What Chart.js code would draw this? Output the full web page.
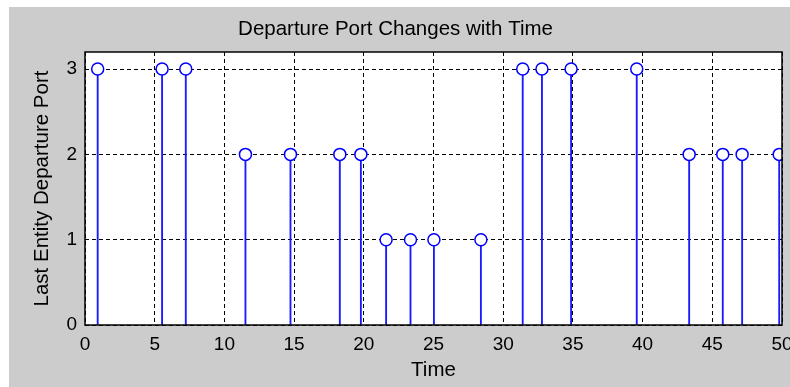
<!DOCTYPE html>
<html>
<head>
<meta charset="utf-8">
<script src="https://cdn.jsdelivr.net/npm/chart.js@4"></script>
<style>
  html, body { margin: 0; padding: 0; background: #fff; }
  #box { position: absolute; left: 9px; top: 7px; width: 781px; height: 380px; background: #cccccc; }
</style>
</head>
<body>
<div id="box"><canvas id="chart" width="781" height="380"></canvas></div>
<script>
// departure times and the port each entity left from
const times = [0.91, 5.53, 7.23, 11.51, 14.74, 18.28, 19.79, 21.6, 23.35, 25.03, 28.4,
               31.4, 32.78, 34.87, 39.58, 43.34, 45.75, 47.14, 49.8];
const ports = [3, 3, 3, 2, 2, 2, 2, 1, 1, 1, 1, 3, 3, 3, 3, 2, 2, 2, 2];
const xTicks = [0, 5, 10, 15, 20, 25, 30, 35, 40, 45, 50];
const yTicks = [0, 1, 2, 3];

const points = times.map((t, i) => ({ x: t, y: ports[i] }));
const FONT = "'Liberation Sans', Arial, sans-serif";

const frame = {
    id: 'frame',
    beforeDraw(chart) {
        const a = chart.chartArea, ctx = chart.ctx;
        ctx.save();
        ctx.fillStyle = '#fff';
        ctx.fillRect(a.left, a.top, a.right - a.left, a.bottom - a.top);
        ctx.restore();
    },
    afterDraw(chart) {
        const a = chart.chartArea, ctx = chart.ctx;
        ctx.save();
        ctx.strokeStyle = '#000';
        ctx.lineWidth = 1.5;
        ctx.strokeRect(a.left, a.top, a.right - a.left, a.bottom - a.top);
        ctx.restore();
    }
};

new Chart(document.getElementById('chart'), {
    type: 'bar',
    data: {
        datasets: [{
            type: 'scatter',
            data: points,
            order: 0,
            pointRadius: 6,
            pointHoverRadius: 6,
            pointBorderWidth: 1.5,
            pointBorderColor: '#0000ff',
            pointBackgroundColor: '#fff'
        }, {
            type: 'bar',
            data: points,
            order: 1,
            grouped: false,
            barThickness: 1.2,
            backgroundColor: '#1a1aff',
            borderWidth: 0
        }]
    },
    plugins: [frame],
    options: {
        responsive: false,
        animation: false,
        layout: { padding: { left: 0, right: 8, top: 0, bottom: 0 } },
        plugins: {
            legend: { display: false },
            tooltip: { enabled: false },
            title: {
                display: true,
                text: 'Departure Port Changes with Time',
                color: '#000',
                font: { family: FONT, size: 20.5, weight: 'normal' },
                padding: { top: 10, bottom: 10.4 }
            }
        },
        scales: {
            x: {
                type: 'linear',
                offset: false,
                min: 0,
                max: 50,
                afterBuildTicks: axis => { axis.ticks = xTicks.map(v => ({ value: v })); },
                afterFit: axis => { axis.height = 62; axis.paddingLeft = 0; axis.paddingRight = 0; },
                grid: { color: '#000', lineWidth: 1, drawTicks: false, offset: false },
                border: { display: false, dash: [4, 3] },
                ticks: { color: '#000', padding: 8, maxRotation: 0, font: { family: FONT, size: 19 } },
                title: {
                    display: true,
                    text: 'Time',
                    color: '#000',
                    font: { family: FONT, size: 20.5 },
                    padding: { top: 4, bottom: 4 }
                }
            },
            y: {
                min: 0,
                max: 3.2,
                afterBuildTicks: axis => { axis.ticks = yTicks.map(v => ({ value: v })); },
                afterFit: axis => { axis.width = 76; axis.paddingTop = 0; axis.paddingBottom = 0; },
                grid: { color: '#000', lineWidth: 1, drawTicks: false },
                border: { display: false, dash: [4, 3] },
                ticks: { color: '#000', padding: 8, font: { family: FONT, size: 19 } },
                title: {
                    display: true,
                    text: 'Last Entity Departure Port',
                    color: '#000',
                    font: { family: FONT, size: 20.5 },
                    padding: { top: 21, bottom: 0 }
                }
            }
        }
    }
});
</script>
</body>
</html>
